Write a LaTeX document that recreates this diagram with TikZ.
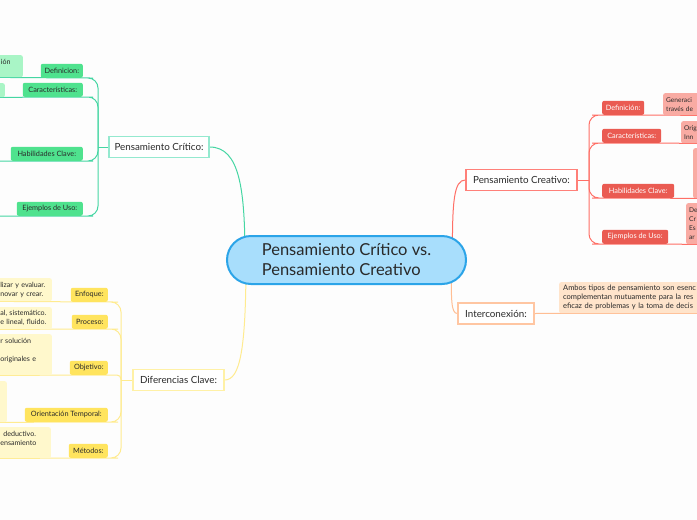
\documentclass[tikz,border=0pt]{standalone}
\usepackage{fontspec}
\setmainfont{Lato}
\usepackage{xcolor}
\usepackage{tikz}
\usetikzlibrary{positioning,backgrounds}
\definecolor{pagebg}{HTML}{FDFDFD}
\definecolor{hubfill}{HTML}{A8DEFC}
\definecolor{hubline}{HTML}{2BA4E8}
\definecolor{inkdark}{HTML}{2A2A2A}
% verde: pensamiento critico
\definecolor{gline}{HTML}{45D6A3}
\definecolor{gtopic}{HTML}{94E9CF}
\definecolor{gtag}{HTML}{4FE28E}
\definecolor{gnote}{HTML}{A9F5C6}
% amarillo: diferencias
\definecolor{yline}{HTML}{FFEB8F}
\definecolor{ytopic}{HTML}{FFF1A6}
\definecolor{ytag}{HTML}{FFE45E}
\definecolor{ynote}{HTML}{FFF8CC}
% rojo: pensamiento creativo
\definecolor{rline}{HTML}{FF6F66}
\definecolor{rtopic}{HTML}{FF8079}
\definecolor{rtag}{HTML}{EA5B52}
\definecolor{rnote}{HTML}{F9ABA3}
% naranja: interconexion
\definecolor{oline}{HTML}{FFBE94}
\definecolor{otopic}{HTML}{FFC6A2}
\definecolor{onote}{HTML}{FFE4CB}
\tikzset{
  hub/.style={draw=hubline,line width=2pt,fill=hubfill,rounded corners=24pt,
              minimum width=239pt,minimum height=48pt,align=left,text=inkdark,
              font=\fontsize{16.5}{20}\selectfont},
  topic/.style={fill=white,line width=1.2pt,inner sep=0pt,minimum height=21pt,
                text=inkdark,font=\fontsize{9.8}{11}\selectfont},
  tag/.style={rounded corners=2pt,inner sep=0pt,minimum height=14pt,
              text=inkdark,font=\fontsize{7.3}{8}\selectfont},
  rtagb/.style={tag,fill=rtag,text=white},
  note/.style={rounded corners=2pt,inner sep=0pt,inner xsep=4pt,align=left,
               text=inkdark,font=\fontsize{7.1}{9}\selectfont},
  rnoteb/.style={note,fill=rnote,anchor=north west,inner xsep=3pt,
                 font=\fontsize{6.6}{9}\selectfont},
  link/.style={line width=1pt,rounded corners=10pt},
}

\begin{document}
\begin{tikzpicture}[x=1pt,y=-1pt]
  \useasboundingbox (0,0) rectangle (697,520);
  \clip (0,0) rectangle (697,520);

  \node[hub] (hub) at (346.5,260) {Pensamiento Crítico vs.\\Pensamiento Creativo};

  % ramas principales
  \node[topic,draw=gtopic,minimum width=100pt] (pcrit) at (159,147) {Pensamiento Crítico:};
  \node[topic,draw=ytopic,minimum width=91pt]  (dif)   at (178.5,380) {Diferencias Clave:};
  \node[topic,draw=rtopic,minimum width=111pt] (pcrea) at (521.5,180) {Pensamiento Creativo:};
  \node[topic,draw=otopic,minimum width=76pt]  (inter) at (496,313.5) {Interconexión:};

  % verde, a la izquierda; las notas quedan cortadas por el borde
  \node[tag,fill=gtag,minimum width=42pt,anchor=south east] (gdef) at (83,78)  {Definicion:};
  \node[tag,fill=gtag,minimum width=60pt,anchor=south east] (gcar) at (83,97)  {Características:};
  \node[tag,fill=gtag,minimum width=72pt,anchor=south east] (ghab) at (83,161) {Habilidades Clave:};
  \node[tag,fill=gtag,minimum width=66pt,anchor=south east] (gejm) at (83,216) {Ejemplos de Uso:};
  \node[note,fill=gnote,anchor=north east,text width=18pt,minimum height=22pt] (gdefn) at (23,55) {ión\\\mbox{}};
  \node[note,fill=gnote,anchor=north east,minimum width=20pt,minimum height=14pt] (gcarn) at (5,83) {};
  \coordinate (ghabn) at (-5,161);
  \coordinate (gejmn) at (-5,216);
  \coordinate (gj) at (98,147);

  % amarillo
  \node[tag,fill=ytag,minimum width=37pt,anchor=south east] (yenf) at (108,302) {Enfoque:};
  \node[tag,fill=ytag,minimum width=36pt,anchor=south east] (ypro) at (108,329) {Proceso:};
  \node[tag,fill=ytag,minimum width=38pt,anchor=south east] (yobj) at (108,375) {Objetivo:};
  \node[tag,fill=ytag,minimum width=83pt,anchor=south east] (yori) at (108,422) {Orientación Temporal:};
  \node[tag,fill=ytag,minimum width=39pt,anchor=south east] (ymet) at (108,458) {Métodos:};
  \node[note,fill=ynote,anchor=north east,text width=47.5pt,minimum height=23pt] (yenfn) at (52,278)
    {lizar y evaluar.\\novar y crear.};
  \node[note,fill=ynote,anchor=north east,text width=47.5pt,minimum height=22pt] (ypron) at (52,307)
    {al, sistemático.\\e lineal, fluido.};
  \node[note,fill=ynote,anchor=north east,text width=47.5pt,minimum height=41pt] (yobjn) at (52,334)
    {r solución\\\mbox{}\\originales e\\\mbox{}};
  \node[note,fill=ynote,anchor=north east,minimum width=20pt,minimum height=41pt] (yorin) at (7,381) {};
  \node[note,fill=ynote,anchor=north east,text width=46.5pt,minimum height=31pt] (ymetn) at (51,427)
    {\hspace*{3pt}deductivo.\\ensamiento\\\mbox{}};
  \coordinate (yj) at (121,380);

  % rojo, a la derecha
  \node[rtagb,minimum width=42pt,anchor=south west] (rdef) at (602,115) {Definición:};
  \node[rtagb,minimum width=59pt,anchor=south west] (rcar) at (602,143) {Características:};
  \node[rtagb,minimum width=72pt,anchor=south west] (rhab) at (602,198) {Habilidades Clave:};
  \node[rtagb,minimum width=66pt,anchor=south west] (rejm) at (602,244) {Ejemplos de Uso:};
  \node[rnoteb,text width=60pt,minimum height=22pt] (rdefn) at (663,93) {Generaci\\través de};
  \node[rnoteb,text width=40pt,minimum height=22pt] (rcarn) at (681,121) {Orig\\Inn};
  \node[rnoteb,minimum width=20pt,minimum height=50pt] (rhabn) at (693,148) {};
  \node[rnoteb,text width=40pt,minimum height=41pt] (rejmn) at (686,203) {De\\Cr\\Es\\ar};
  \coordinate (rj) at (589,180);

  % naranja
  \node[note,fill=onote,anchor=north west,text width=170pt,minimum height=31pt,
        font=\fontsize{7.5}{9}\selectfont] (intn) at (559,282)
    {Ambos tipos de pensamiento son esenc\\complementan mutuamente para la res\\eficaz de problemas y la toma de decis};

  \begin{scope}[on background layer]
    \fill[pagebg] (0,0) rectangle (697,520);
    % del centro a cada rama
    \draw[link,gline] ([xshift=-101.5pt]hub.center) .. controls (245,190) and (240,147) .. (pcrit.east);
    \draw[link,yline] ([xshift=-100.5pt]hub.center) .. controls (246,350) and (240,380) .. (dif.east);
    \draw[link,rline] ([xshift=106pt]hub.center) .. controls (452,200) and (454,180) .. (pcrea.west);
    \draw[link,oline] ([xshift=105pt]hub.center) .. controls (451,300) and (451,313.5) .. (inter.west);

    \draw[link,gline] (pcrit.west) -- (gj);
    \foreach \t/\n in {gdef/gdefn.south west,gcar/gcarn.south west,ghab/ghabn,gejm/gejmn}
      \draw[link,gline] (gj) |- (\t.south east) -- (\n);

    \draw[link,yline] (dif.west) -- (yj);
    \foreach \t/\n in {yenf/yenfn,ypro/ypron,yori/yorin,ymet/ymetn}
      \draw[link,yline] (yj) |- (\t.south east) -- (\n.south west);
    \draw[link,yline,rounded corners=4pt] (yj) |- (yobj.south east) -- (yobjn.south west);

    \draw[link,rline] (pcrea.east) -- (rj);
    \foreach \t/\n in {rdef/rdefn,rcar/rcarn,rhab/rhabn,rejm/rejmn}
      \draw[link,rline] (rj) |- (\t.south west) -- (\n.south east);

    \draw[link,oline] (inter.east) -- (intn.south west) -- (intn.south east);
  \end{scope}
\end{tikzpicture}
\end{document}
